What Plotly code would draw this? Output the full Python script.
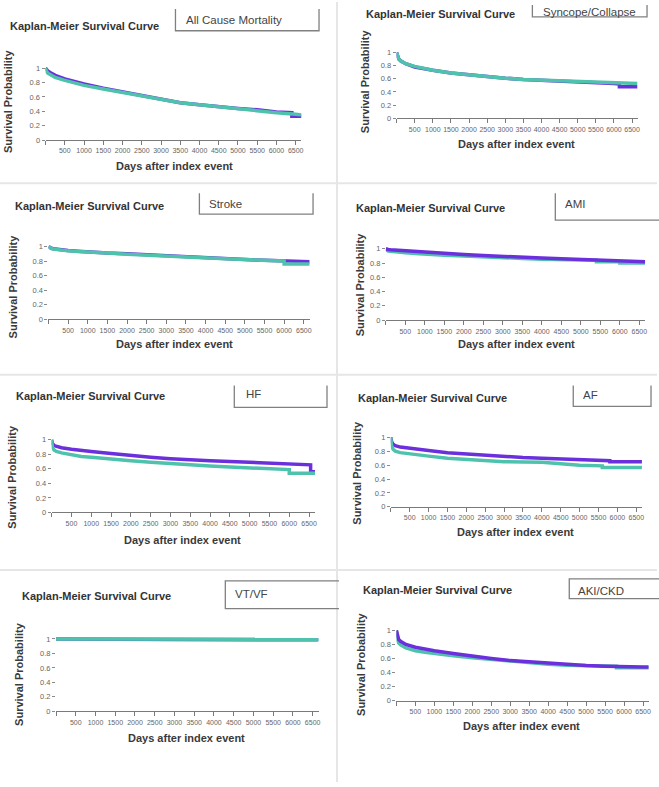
import plotly.graph_objects as go

# ---------------- data ----------------
PANEL_NAMES = ["All Cause Mortality", "Syncope/Collapse", "Stroke", "AMI",
               "HF", "AF", "VT/VF", "AKI/CKD"]
PANEL_TITLE = "Kaplan-Meier Survival Curve"
X_TITLE = "Days after index event"
Y_TITLE = "Survival Probability"
X_TICKS = [0, 500, 1000, 1500, 2000, 2500, 3000, 3500, 4000, 4500, 5000, 5500, 6000, 6500]
X_TICKTEXT = [""] + [str(v) for v in X_TICKS[1:]]
Y_TICKS = [0, 0.2, 0.4, 0.6, 0.8, 1]
Y_TICKTEXT = ["0", "0.2", "0.4", "0.6", "0.8", "1"]

GRID = [0, 20, 60, 120, 250, 500, 750, 1000, 1500, 2000, 2500, 3000, 3500, 4000,
        4500, 5000, 5500, 6000, 6500, 6650]

# All Cause Mortality
ACM_P_T = [0, 20, 60, 120, 250, 500, 750, 1000, 1500, 2000, 2500, 3000, 3500, 4000, 4500, 5000, 5500, 6000, 6400, 6400, 6650]
ACM_P_S = [1.0, 0.98, 0.96, 0.94, 0.90, 0.85, 0.81, 0.78, 0.72, 0.67, 0.61, 0.56, 0.52, 0.49, 0.46, 0.44, 0.42, 0.39, 0.38, 0.33, 0.33]
ACM_T_T = GRID
ACM_T_S = [1.0, 0.96, 0.93, 0.91, 0.87, 0.83, 0.79, 0.76, 0.71, 0.66, 0.61, 0.56, 0.52, 0.49, 0.46, 0.43, 0.41, 0.38, 0.36, 0.35]

# Syncope/Collapse
SYN_P_T = [0, 20, 60, 120, 250, 500, 750, 1000, 1500, 2000, 2500, 3000, 3500, 4000, 4500, 5000, 5500, 6000, 6150, 6150, 6650]
SYN_P_S = [1.0, 0.95, 0.90, 0.87, 0.83, 0.78, 0.75, 0.73, 0.69, 0.66, 0.63, 0.61, 0.59, 0.58, 0.57, 0.56, 0.55, 0.53, 0.52, 0.48, 0.48]
SYN_T_T = GRID
SYN_T_S = [1.0, 0.95, 0.90, 0.87, 0.83, 0.79, 0.76, 0.73, 0.69, 0.66, 0.63, 0.61, 0.59, 0.58, 0.57, 0.56, 0.55, 0.53, 0.53, 0.53]

# Stroke
STR_P_T = GRID
STR_P_S = [1.0, 0.99, 0.98, 0.97, 0.96, 0.945, 0.935, 0.925, 0.91, 0.90, 0.885, 0.87, 0.86, 0.845, 0.835, 0.82, 0.81, 0.80, 0.79, 0.79]
STR_T_T = [0, 20, 60, 120, 250, 500, 750, 1000, 1500, 2000, 2500, 3000, 3500, 4000, 4500, 5000, 5500, 6000, 6000, 6500, 6650]
STR_T_S = [1.0, 0.985, 0.975, 0.965, 0.955, 0.94, 0.93, 0.92, 0.91, 0.895, 0.88, 0.87, 0.855, 0.845, 0.83, 0.82, 0.81, 0.80, 0.76, 0.76, 0.76]

# AMI
AMI_P_T = GRID
AMI_P_S = [1.0, 0.995, 0.99, 0.985, 0.98, 0.97, 0.96, 0.95, 0.935, 0.92, 0.905, 0.89, 0.88, 0.87, 0.86, 0.85, 0.84, 0.83, 0.82, 0.82]
AMI_T_T = [0, 20, 60, 120, 250, 500, 750, 1000, 1500, 2000, 2500, 3000, 3500, 4000, 4500, 5000, 5400, 5400, 6000, 6000, 6500, 6650]
AMI_T_S = [1.0, 0.98, 0.97, 0.965, 0.955, 0.945, 0.935, 0.925, 0.91, 0.90, 0.885, 0.875, 0.865, 0.855, 0.85, 0.845, 0.84, 0.82, 0.82, 0.80, 0.80, 0.80]

# HF
HF_P_T = [0, 20, 60, 120, 250, 500, 750, 1000, 1500, 2000, 2500, 3000, 3500, 4000, 4500, 5000, 5500, 6000, 6540, 6540, 6650]
HF_P_S = [1.0, 0.95, 0.92, 0.91, 0.89, 0.87, 0.85, 0.84, 0.81, 0.78, 0.76, 0.74, 0.72, 0.71, 0.70, 0.69, 0.675, 0.665, 0.655, 0.56, 0.56]
HF_T_T = [0, 20, 60, 120, 250, 500, 750, 1000, 1500, 2000, 2500, 3000, 3500, 4000, 4500, 5000, 5500, 6000, 6000, 6650]
HF_T_S = [1.0, 0.90, 0.86, 0.84, 0.82, 0.79, 0.77, 0.76, 0.73, 0.71, 0.69, 0.67, 0.655, 0.64, 0.625, 0.61, 0.60, 0.59, 0.54, 0.54]

# AF
AF_P_T = [0, 20, 60, 120, 250, 500, 750, 1000, 1500, 2000, 2500, 3000, 3500, 4000, 4500, 5000, 5500, 5800, 5800, 6500, 6650]
AF_P_S = [1.0, 0.94, 0.90, 0.88, 0.86, 0.84, 0.82, 0.81, 0.78, 0.76, 0.74, 0.72, 0.71, 0.70, 0.69, 0.68, 0.67, 0.665, 0.65, 0.65, 0.65]
AF_T_T = [0, 20, 60, 120, 250, 500, 750, 1000, 1500, 2000, 2500, 3000, 3500, 4000, 4500, 5000, 5600, 5600, 6500, 6650]
AF_T_S = [1.0, 0.88, 0.83, 0.80, 0.78, 0.76, 0.74, 0.73, 0.70, 0.68, 0.665, 0.65, 0.645, 0.64, 0.62, 0.60, 0.59, 0.565, 0.565, 0.565]

# VT/VF
VT_P_T = [0, 1000, 3000, 5000, 6650]
VT_P_S = [1.0, 0.995, 0.993, 0.99, 0.99]
VT_T_T = [0, 1000, 3000, 5000, 6650]
VT_T_S = [1.0, 0.998, 0.997, 0.996, 0.995]

# AKI/CKD
AKI_P_T = GRID
AKI_P_S = [1.0, 0.93, 0.87, 0.84, 0.80, 0.76, 0.73, 0.71, 0.67, 0.63, 0.60, 0.57, 0.55, 0.53, 0.515, 0.50, 0.49, 0.48, 0.48, 0.48]
AKI_T_T = [0, 20, 60, 120, 250, 500, 750, 1000, 1500, 2000, 2500, 3000, 3500, 4000, 4500, 5000, 5500, 5800, 5800, 6650]
AKI_T_S = [1.0, 0.88, 0.82, 0.79, 0.75, 0.71, 0.69, 0.67, 0.64, 0.61, 0.585, 0.56, 0.54, 0.52, 0.505, 0.495, 0.49, 0.49, 0.47, 0.47]

PURPLE_SERIES = [(ACM_P_T, ACM_P_S), (SYN_P_T, SYN_P_S), (STR_P_T, STR_P_S), (AMI_P_T, AMI_P_S),
                 (HF_P_T, HF_P_S), (AF_P_T, AF_P_S), (VT_P_T, VT_P_S), (AKI_P_T, AKI_P_S)]
TEAL_SERIES = [(ACM_T_T, ACM_T_S), (SYN_T_T, SYN_T_S), (STR_T_T, STR_T_S), (AMI_T_T, AMI_T_S),
               (HF_T_T, HF_T_S), (AF_T_T, AF_T_S), (VT_T_T, VT_T_S), (AKI_T_T, AKI_T_S)]

# ---------------- layout geometry (pixels in the 659x787 page) ----------------
W, H = 659, 787
PURPLE = "#6b2fdc"
TEAL = "#4fc2ad"
XMAX = 6650
TEAL_ON_TOP = [True, True, True, False, True, True, True, False]

# x0 (day 0), px per 500 days, y at 0, y at 1
PLOT_GEOM = [
    (45.7, 19.3, 139.3, 66.7),
    (397.8, 18.17, 117.3, 51.0),
    (48.6, 19.7, 320.0, 246.7),
    (387.0, 19.56, 321.0, 249.0),
    (51.8, 19.86, 515.0, 441.7),
    (392.0, 18.94, 509.3, 439.3),
    (56.2, 19.8, 715.7, 642.7),
    (397.6, 19.03, 705.0, 634.0),
]
TITLE_POS = [(8, 24), (365, 12), (13, 206), (355, 208), (14, 398), (357, 400), (20, 599), (362, 593)]
BOX_POS = [(176, 320, 7, 29, False), (534, 649, 3, 15, False), (200, 314, 193, 214, False),
           (557, 668, 193, 220, False), (235, 328, 387, 409, False), (575, 653, 387, 408, False),
           (226, 340, 584, 612, True), (571, 668, 582, 602, True)]
BOX_TEXT_POS = [(185, 18), (543, 10), (208, 204), (565, 204), (245, 396), (583, 397), (234, 597), (578, 594)]
XTITLE_POS = [(175, 165), (518, 143), (175, 345), (518, 345), (183, 543), (517, 535), (187, 743), (523, 730)]
YTITLE_POS = [(8, 100), (366, 80), (13, 287), (362, 285), (12, 479), (358, 475), (19, 678), (362, 668)]


def fx(px):
    return px / W


def fy(py):
    return 1 - py / H


fig = go.Figure()
layout_axes = {}
annotations = []
shapes = []
FONT = "Liberation Sans, Arial, sans-serif"

for i in range(8):
    n = "" if i == 0 else str(i + 1)
    x0, p500, y0, y1 = PLOT_GEOM[i]
    x_end = x0 + XMAX / 500 * p500
    ytop = y1 - 0.03 * (y0 - y1)
    layout_axes["xaxis" + n] = dict(
        domain=[fx(x0), fx(x_end)], range=[0, XMAX], anchor="y" + n,
        showgrid=False, zeroline=False, showline=True, linecolor="#7a7a7a", linewidth=1,
        ticks="outside", ticklen=4, tickcolor="#7a7a7a", tickwidth=1,
        tickvals=X_TICKS, ticktext=X_TICKTEXT,
        tickfont=dict(size=7, color="#666666", family=FONT), tickangle=0,
        fixedrange=True,
    )
    layout_axes["yaxis" + n] = dict(
        domain=[fy(y0), fy(ytop)], range=[0, 1.03], anchor="x" + n,
        showgrid=False, zeroline=False, showline=False,
        ticks="outside", ticklen=3, tickcolor="#8a8a8a", tickwidth=1,
        tickvals=Y_TICKS, ticktext=Y_TICKTEXT,
        tickfont=dict(size=7.5, color="#666666", family=FONT),
        fixedrange=True,
    )
    tt, ts = TEAL_SERIES[i]
    pt, ps = PURPLE_SERIES[i]
    teal_tr = go.Scatter(x=tt, y=ts, mode="lines", line=dict(color=TEAL, width=3.5),
                         xaxis="x" + n, yaxis="y" + n, showlegend=False, hoverinfo="skip")
    purple_tr = go.Scatter(x=pt, y=ps, mode="lines", line=dict(color=PURPLE, width=3.5),
                           xaxis="x" + n, yaxis="y" + n, showlegend=False, hoverinfo="skip")
    if TEAL_ON_TOP[i]:
        fig.add_trace(purple_tr)
        fig.add_trace(teal_tr)
    else:
        fig.add_trace(teal_tr)
        fig.add_trace(purple_tr)

    tx, ty = TITLE_POS[i]
    annotations.append(dict(text="<b>" + PANEL_TITLE + "</b>", x=fx(tx), y=fy(ty), xref="paper", yref="paper",
                            xanchor="left", yanchor="middle", showarrow=False,
                            font=dict(size=11, color="#333333", family=FONT)))
    bx, by = BOX_TEXT_POS[i]
    annotations.append(dict(text=PANEL_NAMES[i], x=fx(bx), y=fy(by), xref="paper", yref="paper",
                            xanchor="left", yanchor="middle", showarrow=False,
                            font=dict(size=11.5, color="#444444", family=FONT)))
    xx, xy = XTITLE_POS[i]
    annotations.append(dict(text="<b>" + X_TITLE + "</b>", x=fx(xx), y=fy(xy), xref="paper", yref="paper",
                            xanchor="center", yanchor="middle", showarrow=False,
                            font=dict(size=11, color="#3a3a3a", family=FONT)))
    yx, yy = YTITLE_POS[i]
    annotations.append(dict(text="<b>" + Y_TITLE + "</b>", x=fx(yx), y=fy(yy), xref="paper", yref="paper",
                            xanchor="center", yanchor="middle", showarrow=False, textangle=-90,
                            font=dict(size=11, color="#3a3a3a", family=FONT)))
    l, r, t, b, closed = BOX_POS[i]
    if closed:
        path = f"M {fx(r)},{fy(t)} L {fx(l)},{fy(t)} L {fx(l)},{fy(b)} L {fx(r)},{fy(b)}"
    else:
        path = f"M {fx(l)},{fy(t)} L {fx(l)},{fy(b)} L {fx(r)},{fy(b)} L {fx(r)},{fy(t)}"
    shapes.append(dict(type="path", path=path, xref="paper", yref="paper",
                       line=dict(color="#808080", width=1.3)))

# light separators between the screenshot panels
SEP = "#e6e6e6"
for yy in [183, 376, 573]:
    shapes.append(dict(type="line", x0=0, x1=1, y0=fy(yy), y1=fy(yy), xref="paper", yref="paper",
                       line=dict(color=SEP, width=2), layer="below"))
shapes.append(dict(type="line", x0=fx(338), x1=fx(338), y0=0, y1=1, xref="paper", yref="paper",
                   line=dict(color=SEP, width=2), layer="below"))

fig.update_layout(
    width=W, height=H, margin=dict(l=0, r=0, t=0, b=0),
    paper_bgcolor="white", plot_bgcolor="white",
    annotations=annotations, shapes=shapes, showlegend=False,
    **layout_axes,
)
fig.write_html("out.html", config={"displayModeBar": False},
               post_script="document.body.style.margin='0px';document.body.style.overflow='hidden';")
